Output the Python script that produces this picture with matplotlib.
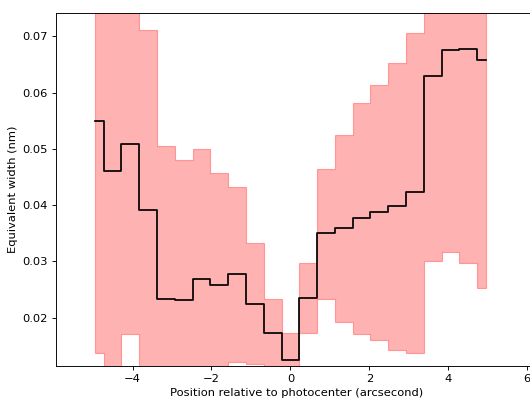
import numpy as np
import matplotlib
matplotlib.use("Agg")
from matplotlib import pyplot as plt

# bin centres (arcsec)
pos = [-4.96, -4.51, -4.06, -3.61, -3.16, -2.71, -2.25, -1.80, -1.35, -0.90, -0.45, 0.0,
       0.45, 0.90, 1.35, 1.80, 2.25, 2.71, 3.16, 3.61, 4.06, 4.51, 4.96]
# equivalent width (nm)
ew = [0.0549, 0.0460, 0.0508, 0.0391, 0.0233, 0.0232, 0.0268, 0.0257, 0.0277, 0.0224, 0.0172, 0.01245,
      0.0235, 0.0351, 0.0360, 0.0377, 0.0387, 0.0399, 0.0423, 0.0630, 0.0676, 0.0677, 0.0658]
ew_hi = [0.0800, 0.0800, 0.0800, 0.0711, 0.0506, 0.0481, 0.0499, 0.0458, 0.0432, 0.0333, 0.0233, 0.0173,
         0.0297, 0.0464, 0.0525, 0.0582, 0.0614, 0.0653, 0.0707, 0.0800, 0.0800, 0.0800, 0.0800]
ew_lo = [0.0136, 0.0080, 0.0170, 0.0080, 0.0080, 0.0080, 0.0080, 0.0080, 0.0121, 0.0118, 0.0080, 0.0080,
         0.0172, 0.0233, 0.0192, 0.0171, 0.0160, 0.0143, 0.0137, 0.0300, 0.0317, 0.0297, 0.0252]

# original looks like a 640x480 figure shrunk to 530x400
dpi = 530 / 6.4
fig = plt.figure(figsize=(6.4, 400 / dpi), dpi=dpi)
# right edge of the axes runs past the picture, as in the reference
ax = fig.add_axes([56 / 530, 1 - 365.5 / 400, (537 - 56) / 530, (365.5 - 12.5) / 400])

ax.fill_between(pos, ew_lo, ew_hi, step="mid", color="red", alpha=0.3)
ax.step(pos, ew, where="mid", color="k")

ax.set_xlim(-5.94, 6.25)
ax.set_ylim(0.01146, 0.07427)
ax.set_xticks([-4, -2, 0, 2, 4, 6])
ax.set_xlabel("Position relative to photocenter (arcsecond)")
ax.set_ylabel("Equivalent width (nm)")

fig.savefig("out.png", dpi=dpi)
